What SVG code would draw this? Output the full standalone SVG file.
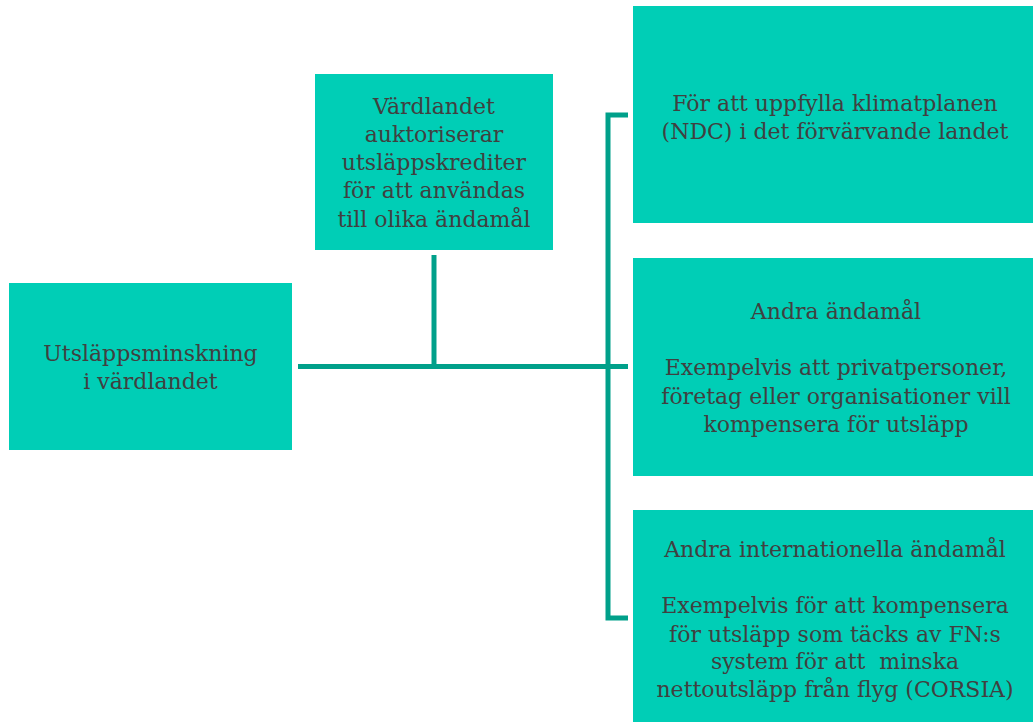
<svg xmlns="http://www.w3.org/2000/svg" width="1033" height="722" viewBox="0 0 1033 722">
<style>
.box{fill:#00CEB6;}
.t{font-family:"DejaVu Serif","Liberation Serif",serif;font-size:22px;fill:#404040;text-anchor:middle;}
.c{stroke:#00A08A;stroke-width:5;fill:none;}
</style>
<rect width="1033" height="722" fill="#FFFFFF"/>
<g id="connectors">
<line class="c" x1="434" y1="255" x2="434" y2="366"/>
<line class="c" x1="298" y1="366.5" x2="628" y2="366.5"/>
<path class="c" d="M628 115 H608 V618 H628"/>
</g>
<g id="n1">
<rect class="box" x="9" y="283" width="283" height="167"/>
<text class="t" x="150.5" y="361">Utsläppsminskning</text>
<text class="t" x="150.5" y="389">i värdlandet</text>
</g>
<g id="n2">
<rect class="box" x="315" y="74" width="238" height="176"/>
<text class="t" x="434" y="114">Värdlandet</text>
<text class="t" x="434" y="142">auktoriserar</text>
<text class="t" x="434" y="170">utsläppskrediter</text>
<text class="t" x="434" y="198">för att användas</text>
<text class="t" x="434" y="227">till olika ändamål</text>
</g>
<g id="n3">
<rect class="box" x="633" y="6" width="400" height="217"/>
<text class="t" x="835" y="111">För att uppfylla klimatplanen</text>
<text class="t" x="835" y="139">(NDC) i det förvärvande landet</text>
</g>
<g id="n4">
<rect class="box" x="633" y="258" width="400" height="218"/>
<text class="t" x="836" y="319">Andra ändamål</text>
<text class="t" x="836" y="375">Exempelvis att privatpersoner,</text>
<text class="t" x="836" y="404">företag eller organisationer vill</text>
<text class="t" x="836" y="432">kompensera för utsläpp</text>
</g>
<g id="n5">
<rect class="box" x="633" y="510" width="400" height="212"/>
<text class="t" x="835" y="557">Andra internationella ändamål</text>
<text class="t" x="835" y="613">Exempelvis för att kompensera</text>
<text class="t" x="835" y="642">för utsläpp som täcks av FN:s</text>
<text class="t" x="835" y="669" xml:space="preserve">system för att  minska</text>
<text class="t" x="835" y="697">nettoutsläpp från flyg (CORSIA)</text>
</g>
</svg>
